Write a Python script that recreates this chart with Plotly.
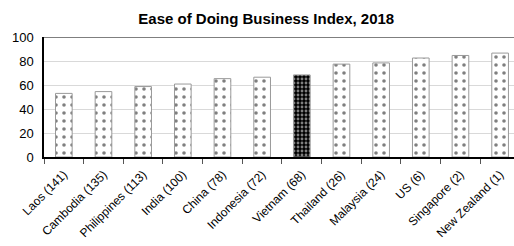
import plotly.graph_objects as go

categories = ["Laos (141)", "Cambodia (135)", "Philippines (113)", "India (100)", "China (78)",
              "Indonesia (72)", "Vietnam (68)", "Thailand (26)", "Malaysia (24)", "US (6)",
              "Singapore (2)", "New Zealand (1)"]
values = [53.0, 54.5, 58.7, 60.8, 65.3, 66.5, 68.4, 77.4, 78.4, 82.5, 84.6, 86.6]
highlight = "Vietnam (68)"

fg = ["white" if c == highlight else "black" for c in categories]
bg = ["black" if c == highlight else "white" for c in categories]
psize = [4 if c == highlight else 8 for c in categories]
psolid = [0.4 if c == highlight else 0.16 for c in categories]

fig = go.Figure()
fig.add_trace(go.Bar(
    x=categories, y=values, width=0.42,
    marker=dict(
        color="white",
        line=dict(color="#9a9a9a", width=1),
        pattern=dict(shape=".", fgcolor=fg, bgcolor=bg, size=psize, solidity=psolid, fillmode="overlay"),
    ),
))

fig.add_shape(type="line", xref="paper", yref="y", x0=0, x1=1, y0=100, y1=100,
              line=dict(color="#7f7f7f", width=2))

fig.update_layout(
    width=514, height=246,
    margin=dict(l=44, r=0, t=37, b=89, autoexpand=False),
    paper_bgcolor="white", plot_bgcolor="white",
    showlegend=False,
    title=dict(text="<b>Ease of Doing Business Index, 2018</b>", x=0.518, xanchor="center",
               y=0.922, yanchor="middle", font=dict(family="Liberation Sans, Arial", size=15, color="black")),
    font=dict(family="Liberation Sans, Arial", color="black"),
)
fig.update_xaxes(
    range=[-0.5, 11.35], showline=True, linecolor="black", linewidth=1.5,
    ticks="outside", tickson="boundaries", ticklen=5, tickcolor="#555",
    tickangle=-45, tickfont=dict(size=12), showgrid=False, automargin=False,
    ticklabelstandoff=4,
)
fig.update_yaxes(
    range=[0, 100], dtick=20, showline=True, linecolor="black", linewidth=1.5,
    gridcolor="#d9d9d9", gridwidth=1, tickfont=dict(size=13), ticks="", zeroline=False,
    automargin=False, ticklabelstandoff=6,
)

fig.write_html("out.html", config={"displayModeBar": False},
               post_script="document.body.style.margin='0';document.body.style.overflow='hidden';")
